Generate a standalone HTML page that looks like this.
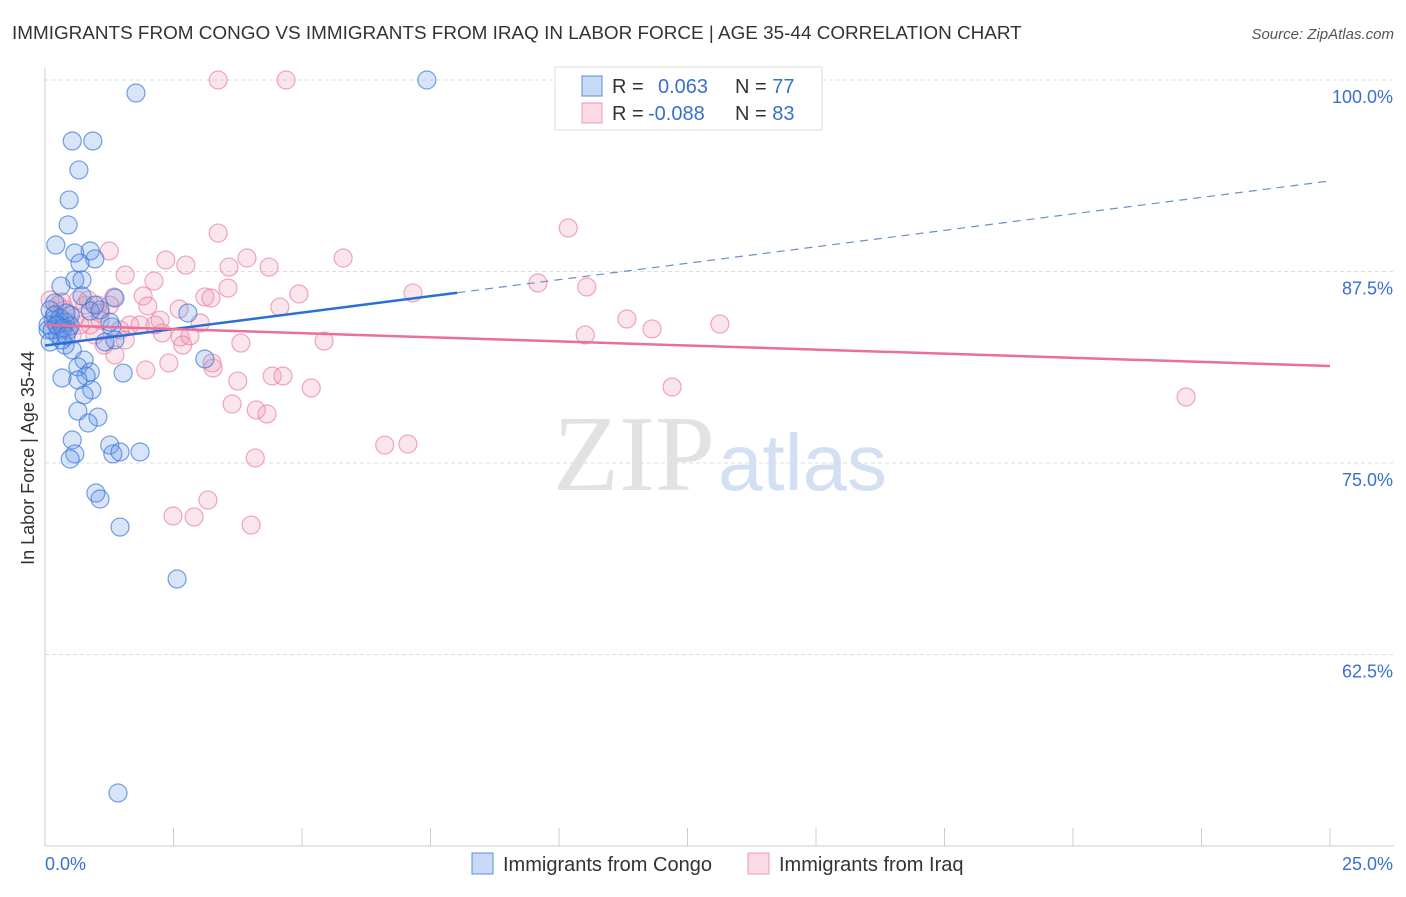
<!DOCTYPE html>
<html><head><meta charset="utf-8"><style>
body{margin:0;background:#fff;font-family:"Liberation Sans",sans-serif;}
</style></head><body>
<svg id="chart" width="1406" height="892" xmlns="http://www.w3.org/2000/svg" font-family="Liberation Sans, sans-serif">
<text x="12" y="39" font-size="18.9" fill="#333">IMMIGRANTS FROM CONGO VS IMMIGRANTS FROM IRAQ IN LABOR FORCE | AGE 35-44 CORRELATION CHART</text>
<text x="1394" y="39" font-size="15" fill="#555" text-anchor="end" font-style="italic">Source: ZipAtlas.com</text>
<text x="553" y="490" font-size="108" fill="#e2e2e2" font-family="Liberation Serif, serif">ZIP</text>
<text x="718" y="490" font-size="80" fill="#d3e0f3">atlas</text>
<g id="grid"></g>
<g id="axes"></g>
<g id="pts"></g>
<g id="trends"></g>
<text transform="translate(34,458) rotate(-90)" font-size="18" fill="#333" text-anchor="middle">In Labor Force | Age 35-44</text>
<g>
<rect x="555" y="67" width="267" height="63" fill="#fff" stroke="#ddd"/>
<rect x="582" y="76" width="20" height="20" fill="rgba(100,150,230,0.35)" stroke="#5b8fde"/>
<rect x="582" y="103" width="20" height="20" fill="rgba(240,150,180,0.35)" stroke="#ec9ab5"/>
<text x="612" y="93" font-size="20" fill="#333">R = <tspan fill="#3a6fd1" x="658">0.063</tspan><tspan x="735" fill="#333">N = </tspan><tspan fill="#3a6fd1">77</tspan></text>
<text x="612" y="120" font-size="20" fill="#333">R = <tspan fill="#3a6fd1" x="648">-0.088</tspan><tspan x="735" fill="#333">N = </tspan><tspan fill="#3a6fd1">83</tspan></text>
</g>
<g>
<rect x="472" y="853" width="21" height="21" fill="rgba(100,150,230,0.35)" stroke="#5b8fde"/>
<text x="503" y="871" font-size="20" fill="#333">Immigrants from Congo</text>
<rect x="748" y="853" width="21" height="21" fill="rgba(240,150,180,0.35)" stroke="#ec9ab5"/>
<text x="779" y="871" font-size="20" fill="#333">Immigrants from Iraq</text>
</g>
</svg>
<script>
const blueX=[1.77,7.43,.53,.93,.66,.47,.45,.21,.58,.88,.97,.68,.58,.72,.31,.19,.72,1.36,.88,.16,.29,.45,.06,.10,.39,.53,1.30,1.36,1.17,2.78,3.11,.76,.64,.88,.80,.33,.64,.91,.76,1.52,.64,1.03,.84,.53,1.26,.58,.49,1.32,1.46,1.85,.99,1.07,1.46,2.57,1.42,.10,.19,.29,.39,.49,.06,.25,.33,.49,.41,.14,.23,.35,.41,1.07,1.26,.97];
const blueY=[99.15,100,96.02,96.02,94.13,92.17,90.54,89.23,88.71,88.84,88.32,88.05,86.95,86.95,86.55,85.44,85.90,85.77,84.92,84.33,84.20,83.68,83.68,82.90,82.70,82.38,83.88,83.03,82.90,84.79,81.79,81.72,81.27,80.94,80.68,80.55,80.42,79.77,79.44,80.87,78.39,78.00,77.61,76.50,76.17,75.59,75.26,75.59,75.72,75.72,73.04,72.65,70.82,67.43,53.46,84.99,84.66,84.46,84.20,84.66,84.01,83.36,83.03,83.94,84.79,83.68,84.01,83.81,83.29,84.99,84.20,85.31];
const pinkX=[3.37,4.69,10.18,3.37,1.25,2.35,2.74,3.58,3.93,4.36,5.80,1.56,2.12,9.59,10.54,3.56,4.94,3.11,3.23,7.16,1.91,1.34,2.61,2.00,4.57,.33,.78,1.03,1.07,11.32,11.81,13.13,10.51,1.65,2.14,2.28,3.02,1.46,2.63,2.82,3.81,2.68,5.43,1.15,1.36,1.96,2.41,3.27,3.25,3.75,4.42,4.63,5.18,12.20,22.20,3.64,4.11,4.32,6.61,7.06,4.09,3.17,2.49,2.90,4.01,.10,.25,.39,.58,.68,.19,.45,.88,.64,.29,.53,.84,1.07,1.56,1.85,2.24,.97,1.26];
const pinkY=[100,100,90.34,90.01,88.84,88.25,87.92,87.79,88.38,87.79,88.38,87.27,86.88,86.75,86.49,86.42,86.03,85.84,85.77,86.10,85.90,85.84,85.05,85.25,85.18,85.51,85.31,85.31,84.79,84.40,83.75,84.07,83.36,84.01,84.01,83.49,84.14,83.68,83.22,83.29,82.83,82.70,82.96,82.70,82.05,81.07,81.53,81.20,81.53,80.35,80.68,80.68,79.90,79.96,79.31,78.85,78.46,78.20,76.17,76.24,75.33,72.58,71.54,71.48,70.95,85.64,85.31,84.99,84.46,84.01,84.66,84.20,84.01,85.64,83.68,83.36,85.64,84.33,83.03,84.01,84.33,83.36,85.31];
const yTicks=[100,87.5,75,62.5];
const yTickLabels=["100.0%","87.5%","75.0%","62.5%"];
const blueTrend=[82.67,93.41]; const blueSolidEnd=8.02;
const pinkTrend=[84.01,81.33];
const NS="http://www.w3.org/2000/svg";
const X=v=>45+v*(1285/25), Y=v=>80+(100-v)*(191.5/12.5);
function mk(t,a,p){const e=document.createElementNS(NS,t);for(const k in a)e.setAttribute(k,a[k]);p.appendChild(e);return e;}
const grid=document.getElementById('grid'),axes=document.getElementById('axes'),pts=document.getElementById('pts'),tr=document.getElementById('trends');
yTicks.forEach((t,i)=>{
 const l=mk('line',{x1:45,x2:1394,y1:Y(t),y2:Y(t),stroke:'#ddd','stroke-dasharray':'4,3'},grid);
 
 
 const tx=mk('text',{x:1393,y:Y(t)+23,'font-size':18,fill:'#3a6fd1','text-anchor':'end'},grid);
 tx.textContent=yTickLabels[i];
 
 
});
const ya=mk('line',{x1:45,x2:45,y1:68,y2:846,stroke:'#ccc'},axes);


const xa=mk('line',{x1:45,x2:1394,y1:846,y2:846,stroke:'#ccc'},axes);


for(let i=1;i<=10;i++){const t=mk('line',{x1:X(i*2.5),x2:X(i*2.5),y1:828,y2:846,stroke:'#ccc'},axes);
 
 }
[[0,'0.0%','start',45],[25,'25.0%','end',1393]].forEach(a=>{const t=mk('text',{x:a[3],y:870,'font-size':18,fill:'#3a6fd1','text-anchor':a[2]},axes);t.textContent=a[1];
 
 });
pinkX.forEach((x,i)=>{const c=mk('circle',{cx:X(x),cy:Y(pinkY[i]),r:9,fill:'rgba(240,150,180,0.25)',stroke:'rgba(232,130,165,0.7)','stroke-width':1.2},pts);
 
 });
blueX.forEach((x,i)=>{const c=mk('circle',{cx:X(x),cy:Y(blueY[i]),r:9,fill:'rgba(100,150,230,0.25)',stroke:'rgba(60,120,215,0.7)','stroke-width':1.2},pts);
 
 });
const by=v=>blueTrend[0]+(blueTrend[1]-blueTrend[0])*v/25;
const b1=mk('line',{x1:X(0),y1:Y(by(0)),x2:X(blueSolidEnd),y2:Y(by(blueSolidEnd)),stroke:'#2a6fd6','stroke-width':2.5},tr);


const b2=mk('line',{x1:X(blueSolidEnd),y1:Y(by(blueSolidEnd)),x2:X(25),y2:Y(by(25)),stroke:'#6a8fcc','stroke-width':1.2,'stroke-dasharray':'8,6'},tr);


const p1=mk('line',{x1:X(0),y1:Y(pinkTrend[0]),x2:X(25),y2:Y(pinkTrend[1]),stroke:'#e8709a','stroke-width':2.5},tr);


</script>
</body></html>
